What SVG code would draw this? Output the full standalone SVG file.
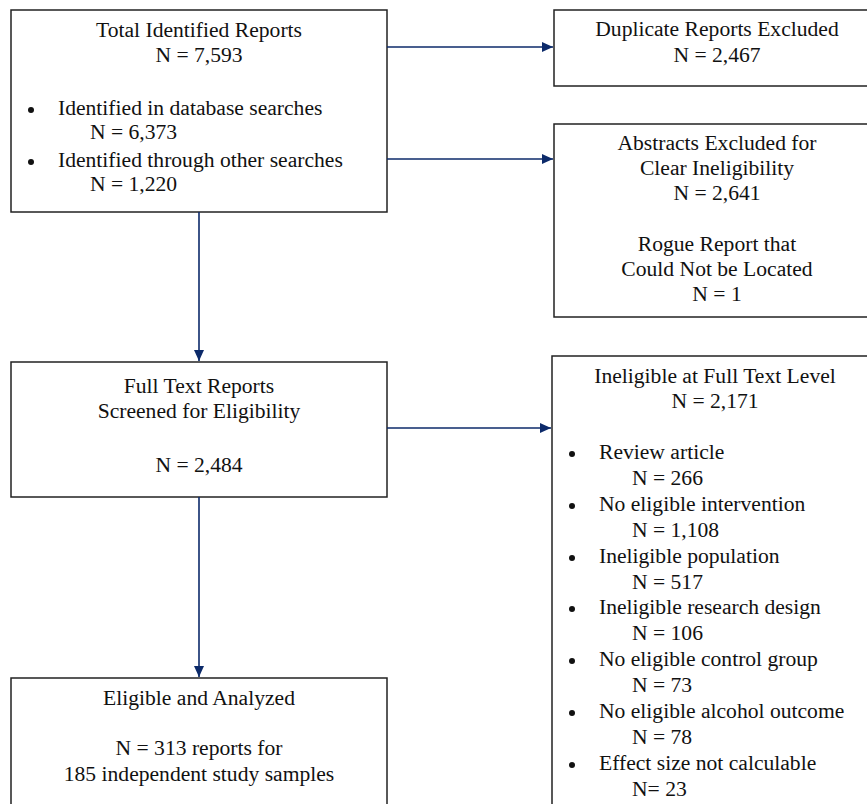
<svg xmlns="http://www.w3.org/2000/svg" width="867" height="804" viewBox="0 0 867 804">
<style>
.box{fill:#fff;stroke:#222;stroke-width:1.5}
text{font-family:"Liberation Serif","Times New Roman",serif;font-size:21.6px;fill:#111}
.c{text-anchor:middle}
.conn{stroke:#0c2a6a;stroke-width:1.6;fill:none}
</style>
<defs>
<marker id="ah" markerWidth="11" markerHeight="10" refX="11" refY="5" orient="auto" markerUnits="userSpaceOnUse">
<path d="M0,0 L11,5 L0,10 Z" fill="#0c2a6a"/>
</marker>
</defs>
<rect width="867" height="804" fill="#fff"/>
<g id="total">
<rect class="box" x="11" y="10" width="376" height="202"/>
<text class="c" x="199" y="37">Total Identified Reports</text>
<text class="c" x="199" y="62">N = 7,593</text>
<circle cx="31" cy="110" r="3" fill="#111"/>
<text x="58" y="115">Identified in database searches</text>
<text x="90" y="139">N = 6,373</text>
<circle cx="31" cy="162" r="3" fill="#111"/>
<text x="58" y="167">Identified through other searches</text>
<text x="90" y="191">N = 1,220</text>
</g>
<g id="duplicate">
<rect class="box" x="554" y="10" width="320" height="76"/>
<text class="c" x="717" y="36">Duplicate Reports Excluded</text>
<text class="c" x="717" y="62">N = 2,467</text>
</g>
<g id="abstracts">
<rect class="box" x="554" y="124" width="320" height="193"/>
<text class="c" x="717" y="150">Abstracts Excluded for</text>
<text class="c" x="717" y="175">Clear Ineligibility</text>
<text class="c" x="717" y="200">N = 2,641</text>
<text class="c" x="717" y="251">Rogue Report that</text>
<text class="c" x="717" y="276">Could Not be Located</text>
<text class="c" x="717" y="301">N = 1</text>
</g>
<g id="fulltext">
<rect class="box" x="11" y="362" width="376" height="135"/>
<text class="c" x="199" y="393">Full Text Reports</text>
<text class="c" x="199" y="418">Screened for Eligibility</text>
<text class="c" x="199" y="472">N = 2,484</text>
</g>
<g id="ineligible">
<rect class="box" x="552" y="356" width="322" height="460"/>
<text class="c" x="715" y="383">Ineligible at Full Text Level</text>
<text class="c" x="715" y="408">N = 2,171</text>
<circle cx="572" cy="454" r="3" fill="#111"/>
<text x="599" y="459">Review article</text>
<text x="632" y="485">N = 266</text>
<circle cx="572" cy="506" r="3" fill="#111"/>
<text x="599" y="511">No eligible intervention</text>
<text x="632" y="537">N = 1,108</text>
<circle cx="572" cy="558" r="3" fill="#111"/>
<text x="599" y="563">Ineligible population</text>
<text x="632" y="589">N = 517</text>
<circle cx="572" cy="609" r="3" fill="#111"/>
<text x="599" y="614">Ineligible research design</text>
<text x="632" y="640">N = 106</text>
<circle cx="572" cy="661" r="3" fill="#111"/>
<text x="599" y="666">No eligible control group</text>
<text x="632" y="692">N = 73</text>
<circle cx="572" cy="713" r="3" fill="#111"/>
<text x="599" y="718">No eligible alcohol outcome</text>
<text x="632" y="744">N = 78</text>
<circle cx="572" cy="765" r="3" fill="#111"/>
<text x="599" y="770">Effect size not calculable</text>
<text x="632" y="796">N= 23</text>
</g>
<g id="eligible">
<rect class="box" x="11" y="678" width="376" height="140"/>
<text class="c" x="199" y="705">Eligible and Analyzed</text>
<text class="c" x="199" y="755">N = 313 reports for</text>
<text class="c" x="199" y="781">185 independent study samples</text>
</g>
<g id="connectors">
<line class="conn" x1="387" y1="47" x2="553" y2="47" marker-end="url(#ah)"/>
<line class="conn" x1="387" y1="159" x2="553" y2="159" marker-end="url(#ah)"/>
<line class="conn" x1="199" y1="212" x2="199" y2="361" marker-end="url(#ah)"/>
<line class="conn" x1="387" y1="428" x2="551" y2="428" marker-end="url(#ah)"/>
<line class="conn" x1="199" y1="497" x2="199" y2="677" marker-end="url(#ah)"/>
</g>
</svg>
